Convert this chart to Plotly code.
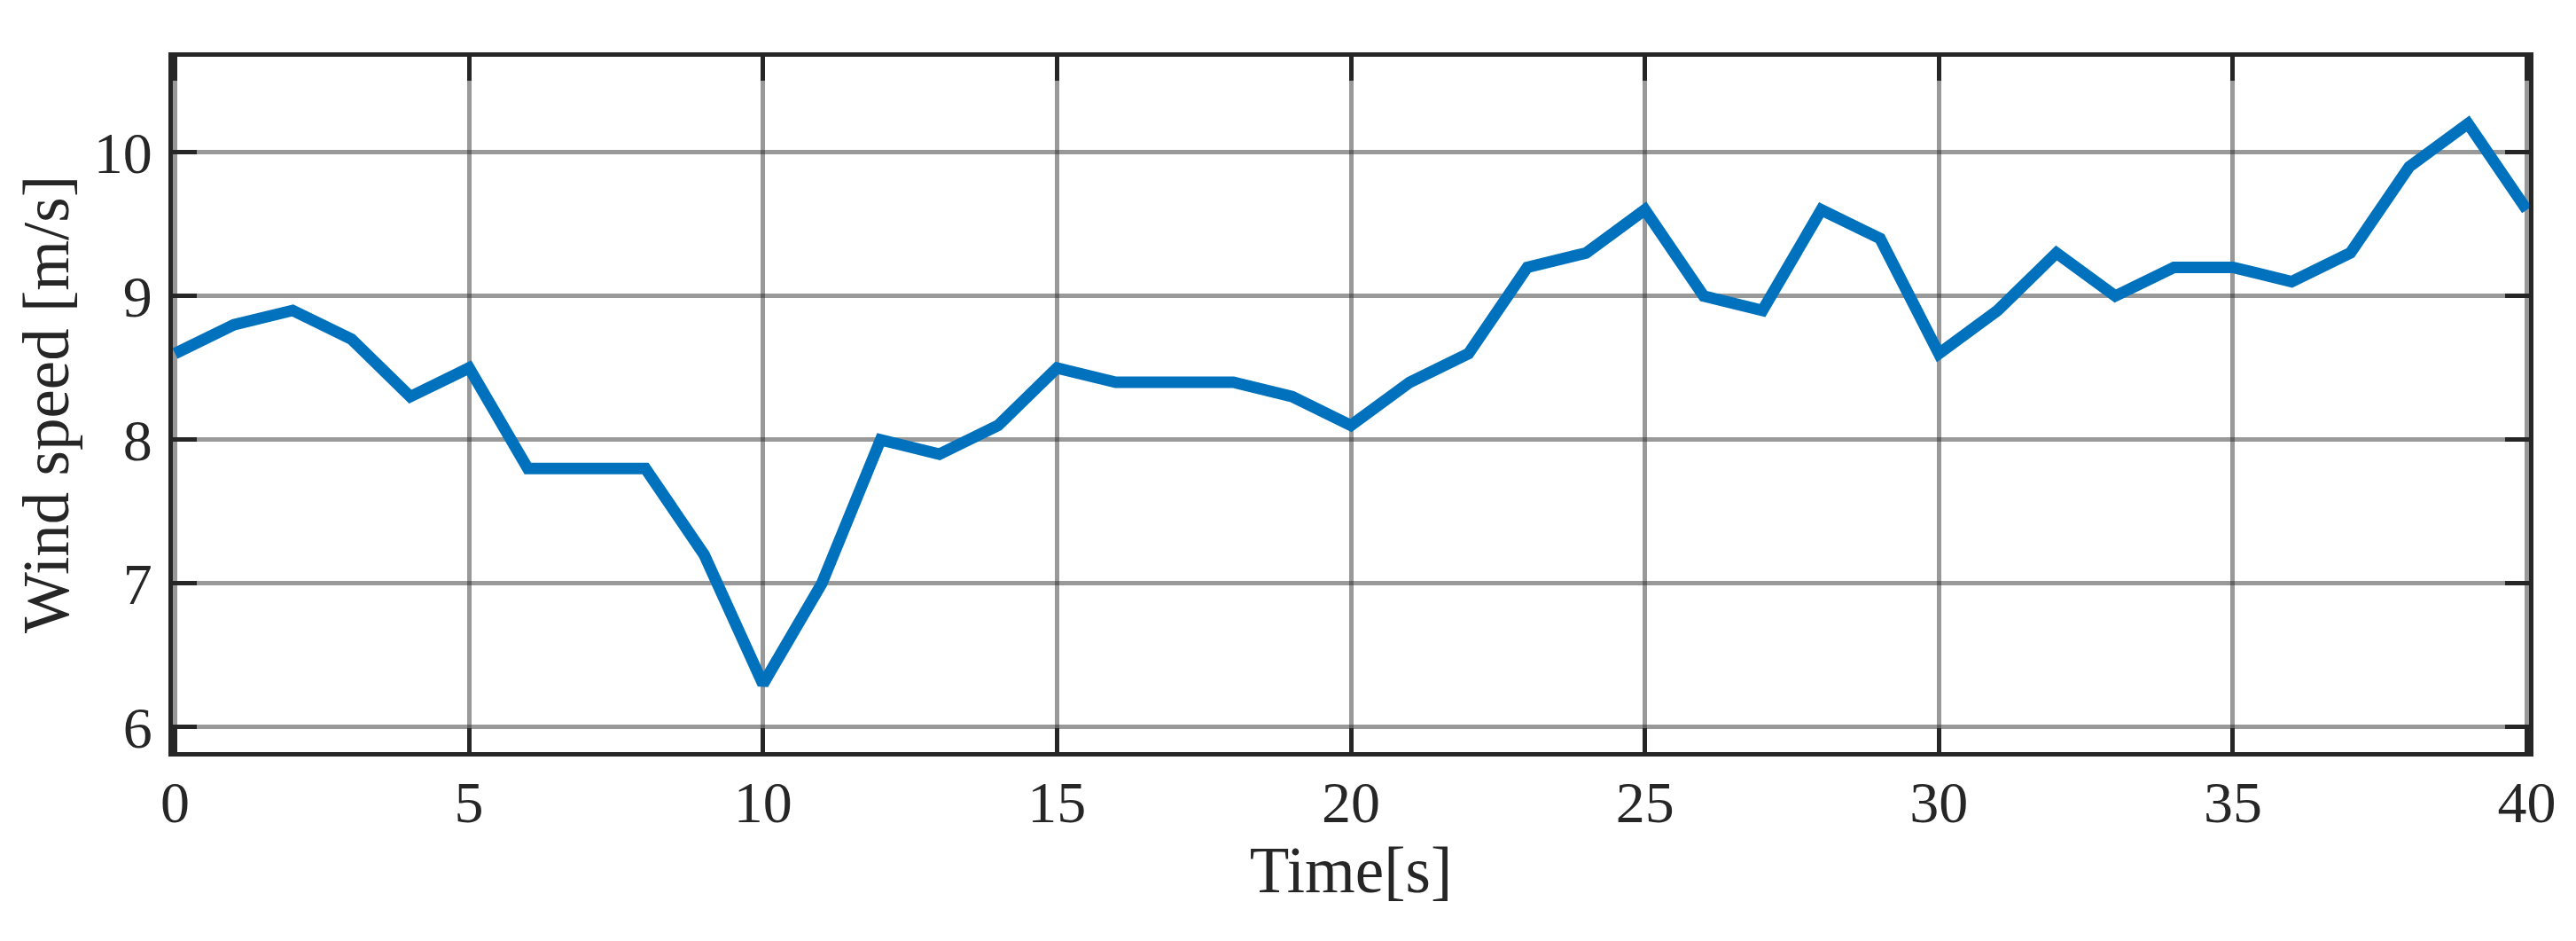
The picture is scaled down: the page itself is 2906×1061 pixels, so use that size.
import plotly.graph_objects as go

time_s = list(range(0, 41))
wind_speed = [8.6, 8.8, 8.9, 8.7, 8.3, 8.5, 7.8, 7.8, 7.8, 7.2,
              6.3, 7.0, 8.0, 7.9, 8.1, 8.5, 8.4, 8.4, 8.4, 8.3,
              8.1, 8.4, 8.6, 9.2, 9.3, 9.6, 9.0, 8.9, 9.6, 9.4,
              8.6, 8.9, 9.3, 9.0, 9.2, 9.2, 9.1, 9.3, 9.9, 10.2,
              9.6]
x_ticks = [0, 5, 10, 15, 20, 25, 30, 35, 40]
y_ticks = [6, 7, 8, 9, 10]

AX = "#262626"
GRID = "rgba(38,38,38,0.47)"
FONT = "Liberation Serif, Times New Roman, serif"

fig = go.Figure()
fig.add_trace(go.Scatter(x=time_s, y=wind_speed, mode="lines",
                         line=dict(color="#0072BD", width=13),
                         showlegend=False))

axis_common = dict(
    showline=True, linecolor=AX, linewidth=5, mirror="ticks",
    ticks="inside", ticklen=27, tickwidth=5, tickcolor=AX,
    showgrid=True, gridcolor=GRID, gridwidth=5,
    zeroline=False, automargin=False,
    tickfont=dict(family=FONT, size=66, color=AX),
)

fig.update_layout(
    width=2890, height=1045,
    margin=dict(l=187, r=45, t=56, b=205),
    paper_bgcolor="white", plot_bgcolor="white",
    xaxis=dict(range=[-0.0376, 40.0376], tickvals=x_ticks, ticklabelstandoff=-5,
               title=dict(text="Time[s]", font=dict(family=FONT, size=73, color=AX), standoff=4),
               **axis_common),
    yaxis=dict(range=[5.827, 10.665], tickvals=y_ticks, ticklabelstandoff=5,
               title=dict(text="Wind speed [m/s]", font=dict(family=FONT, size=73, color=AX), standoff=6),
               **axis_common),
)

fig.write_html("out.html")
